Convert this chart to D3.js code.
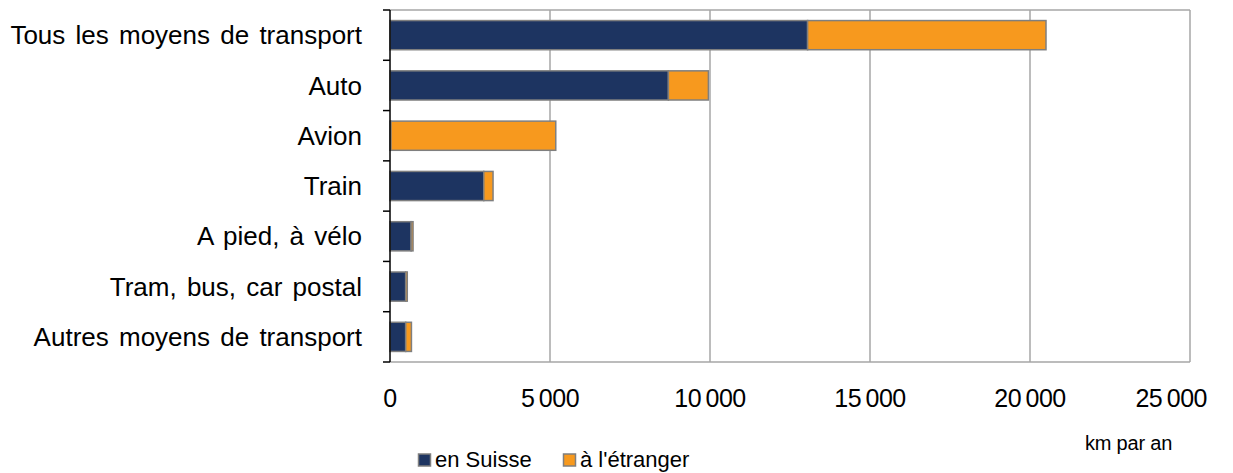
<!DOCTYPE html>
<html>
<head>
<meta charset="utf-8">
<script src="https://cdn.jsdelivr.net/npm/d3@7"></script>
<style>
body { margin: 0; background: #fff; }
text { font-family: "Liberation Sans", Arial, sans-serif; fill: #000; }
</style>
</head>
<body>
<svg width="1233" height="473"></svg>
<script>
var categories = ["Tous les moyens de transport", "Auto", "Avion", "Train", "A pied, à vélo", "Tram, bus, car postal", "Autres moyens de transport"];
var enSuisse = [13050, 8700, 30, 2930, 660, 490, 490];
var aEtranger = [7450, 1250, 5150, 290, 60, 50, 180];
var seriesNames = ["en Suisse", "à l'étranger"];
var colors = ["#1d3461", "#f7991e"];
var xTicks = [0, 5000, 10000, 15000, 20000, 25000];

var svg = d3.select("svg");
var margin = {left: 390, top: 10, right: 43, bottom: 111};
var width = 1233 - margin.left - margin.right;
var height = 473 - margin.top - margin.bottom;

var x = d3.scaleLinear().domain([0, 25000]).range([0, width]);
var y = d3.scaleBand().domain(categories).range([0, height]).paddingInner(0.42).paddingOuter(0.21);

var g = svg.append("g").attr("transform", "translate(" + margin.left + "," + margin.top + ")");

// grid and frame
g.selectAll("line.grid")
    .data(xTicks.slice(1))
    .enter().append("line")
    .attr("class", "grid")
    .attr("x1", function(d){ return x(d); })
    .attr("x2", function(d){ return x(d); })
    .attr("y1", 0).attr("y2", height)
    .attr("stroke", "#a6a6a6").attr("stroke-width", 1.5);
g.append("line").attr("x1", 0).attr("x2", width).attr("y1", 0).attr("y2", 0)
    .attr("stroke", "#a6a6a6").attr("stroke-width", 1.5);
g.append("line").attr("x1", 0).attr("x2", width).attr("y1", height).attr("y2", height)
    .attr("stroke", "#a6a6a6").attr("stroke-width", 1.5);

// stacked bars
var rows = categories.map(function(c, i){
    return {cat: c, parts: [[0, enSuisse[i]], [enSuisse[i], enSuisse[i] + aEtranger[i]]]};
});
var row = g.selectAll("g.row").data(rows).enter().append("g").attr("class", "row");
row.selectAll("rect")
    .data(function(d){ return d.parts.map(function(p, j){ return {cat: d.cat, p: p, j: j}; }); })
    .enter().append("rect")
    .attr("x", function(d){ return x(d.p[0]); })
    .attr("width", function(d){ return x(d.p[1]) - x(d.p[0]); })
    .attr("y", function(d){ return y(d.cat); })
    .attr("height", y.bandwidth())
    .attr("fill", function(d){ return colors[d.j]; })
    .attr("stroke", "#7f7f7f").attr("stroke-width", 1.5);

// left axis, ticks at band boundaries
var bounds = d3.range(categories.length + 1).map(function(i){ return i * height / categories.length; });
g.append("line").attr("x1", 0).attr("x2", 0).attr("y1", 0).attr("y2", height)
    .attr("stroke", "#000").attr("stroke-width", 1.5);
g.selectAll("line.ytick").data(bounds).enter().append("line")
    .attr("class", "ytick")
    .attr("x1", -7).attr("x2", 0)
    .attr("y1", function(d){ return d; }).attr("y2", function(d){ return d; })
    .attr("stroke", "#000").attr("stroke-width", 1.5);

g.selectAll("text.cat").data(categories).enter().append("text")
    .attr("class", "cat")
    .attr("x", -28)
    .attr("y", function(d){ return y(d) + y.bandwidth() / 2; })
    .attr("dy", "0.35em")
    .attr("text-anchor", "end")
    .style("font-size", "26px")
    .style("word-spacing", "3px")
    .text(function(d){ return d; });

// x tick labels (last one pulled in to fit)
var fmt = function(v){ return v === 0 ? "0" : d3.format(",")(v).replace(/,/g, "\u2009"); };
g.selectAll("text.xt").data(xTicks).enter().append("text")
    .attr("class", "xt")
    .attr("x", function(d, i){ return i === xTicks.length - 1 ? width + 17 : x(d); })
    .attr("y", height + 45)
    .attr("text-anchor", function(d, i){ return i === xTicks.length - 1 ? "end" : "middle"; })
    .style("font-size", "25px")
    .style("letter-spacing", "-0.5px")
    .text(fmt);

svg.append("text").attr("x", 1085).attr("y", 450)
    .style("font-size", "20px").style("letter-spacing", "-0.2px").text("km par an");

// legend
var leg = svg.append("g").attr("transform", "translate(418,467)");
var items = leg.selectAll("g").data(seriesNames).enter().append("g")
    .attr("transform", function(d, i){ return "translate(" + (i * 145) + ",0)"; });
items.append("rect").attr("x", 0.5).attr("y", -13).attr("width", 12).attr("height", 12)
    .attr("fill", function(d, i){ return colors[i]; })
    .attr("stroke", "#7f7f7f").attr("stroke-width", 1.5);
items.append("text").attr("x", 17).attr("y", 0)
    .style("font-size", "22px").text(function(d){ return d; });
</script>
</body>
</html>
